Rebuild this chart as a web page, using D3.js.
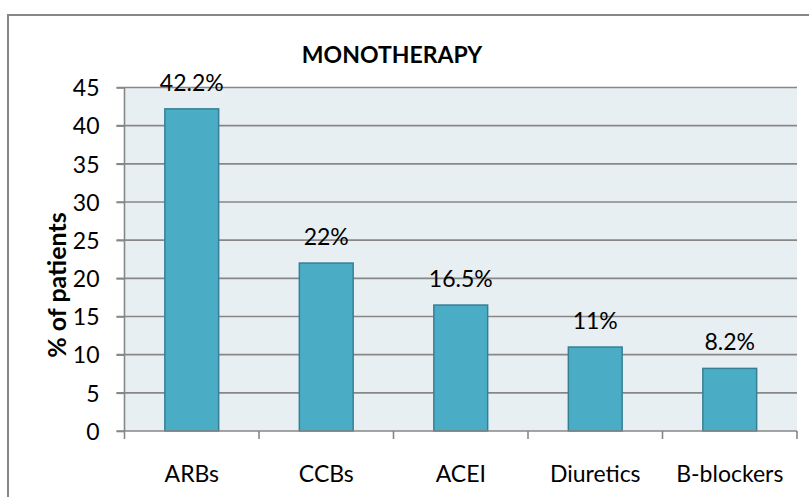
<!DOCTYPE html>
<html>
<head>
<meta charset="utf-8">
<script src="https://cdn.jsdelivr.net/npm/d3@7"></script>
<style>
  body { margin: 0; background: #fff; }
  text { font-family: Lato, "Noto Sans", sans-serif; fill: #000; }
</style>
</head>
<body>
<svg id="chart" width="809" height="497"></svg>
<script>
var categories = ["ARBs", "CCBs", "ACEI", "Diuretics", "B-blockers"];
var values = [42.2, 22, 16.5, 11, 8.2];
var labels = ["42.2%", "22%", "16.5%", "11%", "8.2%"];
var yTicks = [0, 5, 10, 15, 20, 25, 30, 35, 40, 45];

var svg = d3.select("#chart"),
    margin = {top: 87.5, right: 12, bottom: 66, left: 124.5},
    width = +svg.attr("width") - margin.left - margin.right,
    height = +svg.attr("height") - margin.top - margin.bottom;

// outer chart border
svg.append("rect")
    .attr("x", 8).attr("y", 15)
    .attr("width", 820).attr("height", 500)
    .attr("fill", "#fff")
    .attr("stroke", "#878787")
    .attr("stroke-width", 2);

var g = svg.append("g").attr("transform", "translate(" + margin.left + "," + margin.top + ")");

var x = d3.scaleBand()
    .domain(categories)
    .range([0, width])
    .paddingInner(0.6)
    .paddingOuter(0.3);

var y = d3.scaleLinear()
    .domain([0, 45])
    .range([height, 0]);

// plot background
g.append("rect")
    .attr("width", width)
    .attr("height", height)
    .attr("fill", "#e8eff3");

// gridlines
g.append("g")
  .selectAll("line")
  .data(yTicks.slice(1))
  .enter().append("line")
    .attr("x1", -8)
    .attr("x2", width)
    .attr("y1", function(d) { return y(d); })
    .attr("y2", function(d) { return y(d); })
    .attr("stroke", "#878787")
    .attr("stroke-width", 1.6);

// bars
g.append("g")
  .selectAll("rect")
  .data(values)
  .enter().append("rect")
    .attr("x", function(d, i) { return x(categories[i]); })
    .attr("y", function(d) { return y(d); })
    .attr("width", x.bandwidth())
    .attr("height", function(d) { return y(0) - y(d); })
    .attr("fill", "#4bacc6")
    .attr("stroke", "#357f94")
    .attr("stroke-width", 1.5);

// value labels
g.append("g")
  .selectAll("text")
  .data(values)
  .enter().append("text")
    .attr("x", function(d, i) { return x(categories[i]) + x.bandwidth() / 2; })
    .attr("y", function(d) { return y(d) - 18; })
    .attr("text-anchor", "middle")
    .attr("font-size", 23)
    .text(function(d, i) { return labels[i]; });

// y axis
var yAxis = g.append("g")
    .call(d3.axisLeft(y).tickValues(yTicks).tickSize(8).tickPadding(17));
yAxis.selectAll("line").attr("stroke", "#878787").attr("stroke-width", 1.6);
yAxis.select(".domain").attr("stroke", "#878787").attr("stroke-width", 1.6).attr("d", "M0," + height + "V0");
yAxis.selectAll("text").attr("font-size", 23).attr("font-family", "Lato, sans-serif").attr("dy", "0.36em");

// x axis (ticks at category boundaries)
var bounds = d3.range(categories.length + 1).map(function(i) { return i * width / categories.length; });
g.append("line")
    .attr("x1", -8).attr("x2", width)
    .attr("y1", height).attr("y2", height)
    .attr("stroke", "#878787").attr("stroke-width", 1.6);
g.append("g")
  .selectAll("line")
  .data(bounds)
  .enter().append("line")
    .attr("x1", function(d) { return d; })
    .attr("x2", function(d) { return d; })
    .attr("y1", height)
    .attr("y2", height + 8)
    .attr("stroke", "#878787").attr("stroke-width", 1.6);
g.append("g")
  .selectAll("text")
  .data(categories)
  .enter().append("text")
    .attr("x", function(d) { return x(d) + x.bandwidth() / 2; })
    .attr("y", height + 51)
    .attr("text-anchor", "middle")
    .attr("font-size", 23)
    .text(function(d) { return d; });

// title
svg.append("text")
    .attr("x", 392)
    .attr("y", 63)
    .attr("text-anchor", "middle")
    .attr("font-size", 23)
    .attr("font-weight", "bold")
    .text("MONOTHERAPY");

// y axis title
svg.append("text")
    .attr("transform", "translate(66,285) rotate(-90)")
    .attr("text-anchor", "middle")
    .attr("font-size", 25)
    .attr("font-weight", "bold")
    .text("% of patients");
</script>
</body>
</html>
